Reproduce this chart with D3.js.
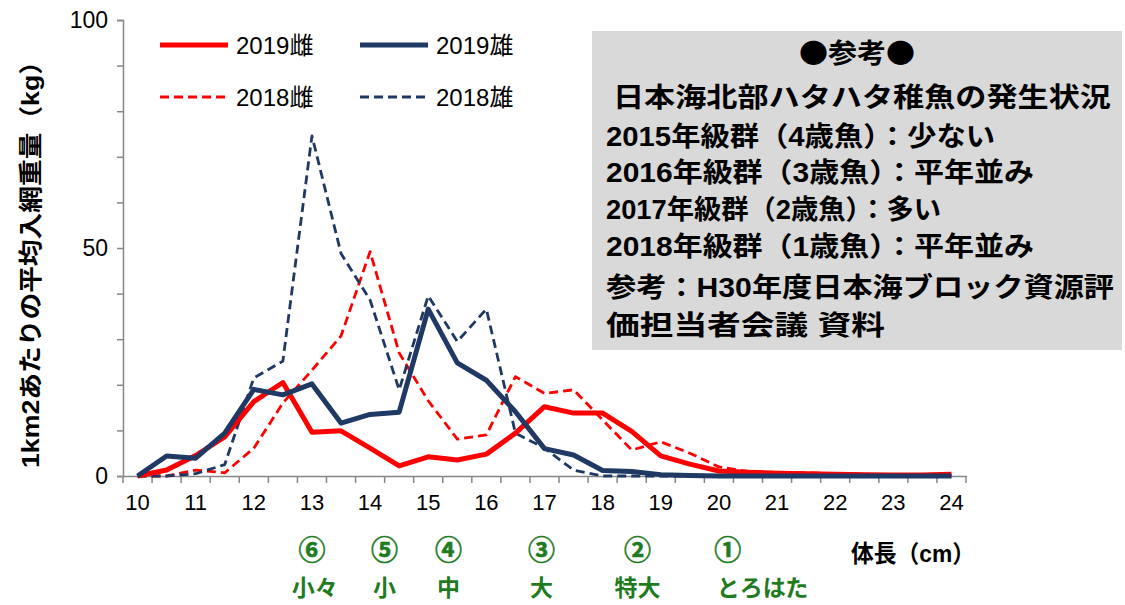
<!DOCTYPE html>
<html>
<head>
<meta charset="utf-8">
<script src="https://cdn.jsdelivr.net/npm/d3@7"></script>
<style>
  html, body { margin: 0; padding: 0; background: #fff; }
  svg { display: block; font-family: "Liberation Sans", Arial, "Noto Sans CJK JP", sans-serif; }
</style>
</head>
<body>
<svg id="chart"></svg>
<script>
// ===== データ =====
const sizes = ["10","10.5","11","11.5","12","12.5","13","13.5","14","14.5","15","15.5","16","16.5",
  "17","17.5","18","18.5","19","19.5","20","20.5","21","21.5","22","22.5","23","23.5","24"];
const tickLabels = ["10","11","12","13","14","15","16","17","18","19","20","21","22","23","24"];

const female2019 = [0, 1.3, 4.5, 8.6, 16.3, 20.5, 9.6, 9.9, 6.1, 2.2, 4.2, 3.5, 4.8, 9.4,
  15.2, 13.8, 13.8, 9.8, 4.4, 2.6, 1.1, 0.8, 0.6, 0.5, 0.4, 0.3, 0.2, 0.2, 0.4];
const male2019 = [0, 4.4, 3.9, 9.4, 19.0, 17.8, 20.2, 11.6, 13.5, 14.0, 36.6, 24.8, 21.0, 14.1,
  6.0, 4.6, 1.2, 1.0, 0.3, 0.1, 0, 0, 0, 0, 0, 0, 0, 0, 0];
const female2018 = [0, 0, 1.3, 0.7, 6.1, 16.0, 23.2, 30.7, 49.2, 27.0, 16.5, 8.1, 9.0, 21.8,
  18.1, 18.9, 12.3, 5.7, 7.5, 5.0, 2.0, 1.0, 0.8, 0.7, 0.5, 0.4, 0.2, 0.1, 0];
const male2018 = [0, 0, 0.5, 2.5, 21.5, 25.2, 74.6, 48.8, 38.6, 18.9, 39.5, 29.5, 36.6, 9.4,
  6.1, 1.3, 0, 0, 0, 0, 0, 0, 0, 0, 0, 0, 0, 0, 0];

const series = [
  { name: "2019雌", values: female2019, color: "#ff0000", width: 5, dash: null },
  { name: "2019雄", values: male2019, color: "#1f3864", width: 5, dash: null },
  { name: "2018雌", values: female2018, color: "#ff0000", width: 2.8, dash: "9,5" },
  { name: "2018雄", values: male2018, color: "#1f3864", width: 2.8, dash: "9,5" }
];

const noteLines = [
  "●参考●",
  "日本海北部ハタハタ稚魚の発生状況",
  "2015年級群（4歳魚）：少ない",
  "2016年級群（3歳魚）：平年並み",
  "2017年級群（2歳魚）：多い",
  "2018年級群（1歳魚）：平年並み",
  "参考：H30年度日本海ブロック資源評",
  "価担当者会議 資料"
];

// 銘柄 (体長の目安)
const grades = [
  { num: "⑥", label: "小々", x: 13, lx: 13.05 },
  { num: "⑤", label: "小", x: 14.25, lx: 14.25 },
  { num: "④", label: "中", x: 15.35, lx: 15.35 },
  { num: "③", label: "大", x: 16.95, lx: 16.95 },
  { num: "②", label: "特大", x: 18.6, lx: 18.6 },
  { num: "①", label: "とろはた", x: 20.15, lx: 20.75 }
];

// ===== 基本設定 =====
const width = 1125, height = 605;
const margin = { left: 123, right: 159, top: 20, bottom: 129 };

const svg = d3.select("#chart").attr("width", width).attr("height", height);

const x = d3.scaleBand().domain(sizes).range([margin.left, width - margin.right]).padding(0);
const y = d3.scaleLinear().domain([0, 100]).range([height - margin.bottom, margin.top]);
const cx = d => x(d) + x.bandwidth() / 2;
// 数値の体長 -> x座標 (ラベル用)
const xNum = d3.scaleLinear().domain([10, 24]).range([cx("10"), cx("24")]);

const axisColor = "#868686";

// ===== 参考ボックス =====
const box = svg.append("g");
box.append("rect")
  .attr("x", 592).attr("y", 31).attr("width", 530).attr("height", 319)
  .attr("fill", "#d9d9d9");

const noteY = [53, 97, 136, 172, 209, 246, 287, 325];
const noteLen = [116, 498, 389, 428, 335, 428, 508, 279];
noteLines.forEach((t, i) => {
  const txt = box.append("text")
    .attr("y", noteY[i])
    .attr("dy", "0.36em")
    .attr("font-size", 27)
    .attr("font-weight", "bold")
    .attr("fill", "#000")
    .attr("textLength", noteLen[i]).attr("lengthAdjust", "spacingAndGlyphs")
    .text(t);
  if (i === 0) {
    txt.attr("x", 857).attr("text-anchor", "middle")
      .attr("font-family", "Noto Sans CJK JP, sans-serif");
  } else if (i === 1) {
    txt.attr("x", 613);
  } else {
    txt.attr("x", 606);
  }
});

// ===== Y軸 =====
const yAxis = d3.axisLeft(y).tickValues(d3.range(0, 101, 10)).tickSize(6)
  .tickFormat(d => (d % 50 === 0 ? d : ""));
const gy = svg.append("g").attr("transform", `translate(${margin.left},0)`).call(yAxis);
gy.select(".domain").attr("stroke", axisColor).attr("stroke-width", 1.5);
gy.selectAll(".tick line").attr("stroke", axisColor).attr("stroke-width", 1.5);
gy.selectAll(".tick text")
  .attr("font-size", 23).attr("fill", "#000")
  .attr("font-family", "Liberation Sans, Arial, sans-serif")
  .attr("x", -15);

// ===== X軸 =====
const xAxis = d3.axisBottom(x).tickValues(tickLabels).tickSize(0).tickPadding(18);
const gx = svg.append("g").attr("transform", `translate(0,${y(0)})`).call(xAxis);
gx.select(".domain").attr("stroke", axisColor).attr("stroke-width", 1.5);
gx.selectAll(".tick text")
  .attr("font-size", 22).attr("fill", "#000")
  .attr("font-family", "Liberation Sans, Arial, sans-serif");
// 区切り目盛り
gx.selectAll("line.sep")
  .data(sizes.concat(["end"]))
  .join("line")
  .attr("class", "sep")
  .attr("x1", (d, i) => margin.left + i * x.step())
  .attr("x2", (d, i) => margin.left + i * x.step())
  .attr("y1", 0).attr("y2", 7)
  .attr("stroke", axisColor).attr("stroke-width", 1.5);

// ===== 折れ線 =====
const line = d3.line()
  .x((d, i) => cx(sizes[i]))
  .y(d => y(d));

const order = [series[2], series[3], series[0], series[1]];
svg.append("g").selectAll("path")
  .data(order)
  .join("path")
  .attr("d", d => line(d.values))
  .attr("fill", "none")
  .attr("stroke", d => d.color)
  .attr("stroke-width", d => d.width)
  .attr("stroke-dasharray", d => d.dash)
  .attr("stroke-linejoin", "round");

// ===== 凡例 =====
const legendPos = [
  { x: 160, y: 45 }, { x: 360, y: 45 },
  { x: 160, y: 97 }, { x: 360, y: 97 }
];
const leg = svg.append("g").selectAll("g")
  .data(series)
  .join("g")
  .attr("transform", (d, i) => `translate(${legendPos[i].x},${legendPos[i].y})`);
leg.append("line")
  .attr("x1", 0).attr("x2", 68).attr("y1", 0).attr("y2", 0)
  .attr("stroke", d => d.color)
  .attr("stroke-width", d => d.width)
  .attr("stroke-dasharray", d => d.dash);
leg.append("text")
  .attr("x", 76).attr("dy", "0.36em")
  .attr("font-size", 24).attr("fill", "#000")
  .text(d => d.name);

// ===== 軸タイトル =====
svg.append("text")
  .attr("transform", `translate(30,${(y(0) + y(100)) / 2 + 10}) rotate(-90)`)
  .attr("text-anchor", "middle")
  .attr("dy", "0.36em")
  .attr("font-size", 24).attr("font-weight", "bold")
  .attr("textLength", 420).attr("lengthAdjust", "spacingAndGlyphs")
  .text("1km2あたりの平均入網重量（kg）");

svg.append("text")
  .attr("x", 851).attr("y", 553).attr("dy", "0.36em")
  .attr("font-size", 24).attr("font-weight", "bold")
  .attr("textLength", 124).attr("lengthAdjust", "spacingAndGlyphs")
  .text("体長（cm）");

// ===== 銘柄ラベル =====
const gr = svg.append("g").attr("fill", "#1e7b1e").attr("font-weight", "bold")
  .attr("text-anchor", "middle");
gr.selectAll("text.num").data(grades).join("text")
  .attr("class", "num")
  .attr("x", d => xNum(d.x)).attr("y", 550).attr("dy", "0.36em")
  .attr("font-family", "Noto Sans CJK JP, sans-serif")
  .attr("font-size", 27).attr("font-weight", "bold")
  .attr("stroke", "#1e7b1e").attr("stroke-width", 0.6)
  .text(d => d.num);
gr.selectAll("text.lab").data(grades).join("text")
  .attr("class", "lab")
  .attr("x", d => xNum(d.lx)).attr("y", 588).attr("dy", "0.36em")
  .attr("font-size", 23)
  .text(d => d.label);
</script>
</body>
</html>
